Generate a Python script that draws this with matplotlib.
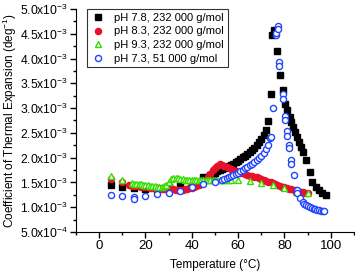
import numpy as np
import matplotlib
matplotlib.use("Agg")
from matplotlib import pyplot as plt
from matplotlib.ticker import MultipleLocator, FuncFormatter

plt.rcParams['font.family'] = ['Liberation Sans', 'DejaVu Sans']
plt.rcParams['mathtext.fontset'] = 'custom'
plt.rcParams['mathtext.rm'] = 'Liberation Sans'

# pH 7.8, 232 000 g/mol  (values in units of 1e-3)
t_78 = [5, 10, 15, 20, 25, 30, 35, 40, 45,
        47, 48, 49, 50, 51, 52, 53, 54, 55, 56, 57, 58, 59, 60, 61, 62, 63, 64,
        65, 66, 67, 68, 69, 70, 71, 72, 73, 74.1, 74.8, 75.6, 77.0, 78.1, 79.2,
        80.3, 81.3, 82.3, 82.8, 83.9, 84.6, 85.6, 86.3, 87.1, 88.2, 89.2, 91.1,
        92.1, 93.5, 95.0, 96.4, 97.8]
a_78 = [1.45, 1.41, 1.38, 1.37, 1.37, 1.40, 1.45, 1.50, 1.60,
        1.62, 1.65, 1.68, 1.70, 1.73, 1.75, 1.77, 1.79, 1.81, 1.83, 1.86, 1.88,
        1.91, 1.94, 1.97, 2.01, 2.04, 2.08, 2.11, 2.15, 2.20, 2.26, 2.31, 2.37,
        2.45, 2.56, 2.74, 3.28, 4.47, 4.57, 4.15, 3.66, 3.36,
        3.09, 2.96, 2.82, 2.72, 2.62, 2.52, 2.42, 2.32, 2.22, 2.12, 1.95, 1.72,
        1.51, 1.41, 1.35, 1.28, 1.25]

# pH 8.3, 232 000 g/mol
t_83 = [5, 10] + list(range(13, 91))
a_83 = [1.56, 1.51,
        1.44, 1.43, 1.43, 1.42, 1.42, 1.41, 1.41, 1.40, 1.40, 1.39, 1.39, 1.38,
        1.38, 1.38, 1.37, 1.37, 1.37, 1.37,
        1.36, 1.36, 1.35, 1.35, 1.35, 1.35, 1.36, 1.37, 1.38, 1.39, 1.40, 1.42,
        1.44, 1.47, 1.50, 1.55, 1.61,
        1.68, 1.75, 1.80, 1.84, 1.87, 1.86, 1.84, 1.82, 1.80, 1.78, 1.76, 1.74,
        1.72, 1.70, 1.69, 1.67, 1.66, 1.64, 1.63, 1.62, 1.60, 1.59, 1.57, 1.55,
        1.53, 1.51, 1.50, 1.48, 1.46, 1.44, 1.42, 1.41, 1.40, 1.38, 1.37, 1.36,
        1.35, 1.34, 1.33, 1.31, 1.30, 1.29, 1.28]

# pH 9.3, 232 000 g/mol
t_93 = [5, 10] + list(range(14, 58)) + [60, 65, 70, 75, 80, 85, 90]
a_93 = [1.63, 1.55,
        1.48, 1.47, 1.47, 1.46, 1.46, 1.45, 1.44, 1.44, 1.43, 1.42, 1.42, 1.41,
        1.41, 1.41, 1.42, 1.45, 1.50, 1.56, 1.58, 1.58, 1.58, 1.57, 1.56, 1.55,
        1.55, 1.54, 1.54, 1.54, 1.54, 1.54, 1.54, 1.54, 1.54, 1.54, 1.54, 1.55,
        1.55, 1.55, 1.55, 1.55, 1.55, 1.55, 1.55, 1.55,
        1.55, 1.53, 1.48, 1.45, 1.38, 1.31, 1.28]

# pH 7.3, 51 000 g/mol
t_73 = [5, 10, 15, 15, 20, 25, 30, 35, 40, 45, 50,
        53, 54, 55, 56, 57, 58, 59, 60, 61, 62, 63, 64, 65, 66, 67, 68, 69, 70,
        71, 72, 72.8, 73.6, 74.1, 75.2, 76.3, 76.5, 77.2, 77.4, 77.8, 77.8,
        79.2, 79.2, 80.2, 80.2, 81.3, 81.3, 82.0, 82.0, 82.8, 82.8, 84.2, 85.3,
        85.6, 86.8, 87.8, 88.6, 89.4, 90.2, 91.0, 91.8, 92.6, 93.4, 94.2, 95.0,
        95.8, 96.6, 97.2]
a_73 = [1.25, 1.23, 1.21, 1.17, 1.23, 1.26, 1.29, 1.33, 1.40, 1.46, 1.51,
        1.55, 1.57, 1.59, 1.61, 1.63, 1.65, 1.68, 1.70, 1.73, 1.76, 1.79, 1.82,
        1.85, 1.88, 1.91, 1.95, 1.99, 2.04, 2.10, 2.18, 2.26, 2.39, 2.42, 3.01,
        4.47, 4.52, 4.65, 4.60, 3.93, 3.85, 3.28, 3.18, 2.85, 2.76, 2.54, 2.44,
        2.25, 2.19, 1.95, 1.88, 1.65, 1.35, 1.28, 1.18, 1.11, 1.07, 1.04, 1.02,
        1.00, 0.98, 0.97, 0.96, 0.95, 0.94, 0.93, 0.93, 0.92]

series = [
    (t_78, a_78, 'pH 7.8, 232 000 g/mol', 's', 'black', 'black'),
    (t_83, a_83, 'pH 8.3, 232 000 g/mol', 'o', '#e8102a', '#e8102a'),
    (t_93, a_93, 'pH 9.3, 232 000 g/mol', '^', 'white', '#33dd00'),
    (t_73, a_73, 'pH 7.3, 51 000 g/mol', 'o', 'white', '#2244ff'),
]


def sci_fmt(v, pos):
    if v <= 0:
        return ''
    exp = int(np.floor(np.log10(v) + 1e-9))
    man = v / 10 ** exp
    return r'$\mathregular{%.1fx10^{%d}}$' % (man, exp)


fig = plt.figure(figsize=(3.55, 2.72), dpi=100)
ax = fig.add_axes([0.214, 0.147, 0.783, 0.82])

for t, a, lab, mk, fc, ec in series:
    y = np.array(a) * 1e-3
    ax.plot(t, y, linestyle='none', marker=mk, markersize=4.4 if mk != 's' else 4.0,
            markerfacecolor=fc, markeredgecolor=ec, markeredgewidth=1.0, label=lab)

ax.set_xlim(-10, 110)
ax.set_ylim(0.5e-3, 5.0e-3)
ax.xaxis.set_major_locator(MultipleLocator(20))
ax.xaxis.set_minor_locator(MultipleLocator(10))
ax.yaxis.set_major_locator(MultipleLocator(0.5e-3))
ax.yaxis.set_minor_locator(MultipleLocator(0.25e-3))
ax.yaxis.set_major_formatter(FuncFormatter(sci_fmt))
ax.xaxis.set_major_formatter(FuncFormatter(lambda v, p: '%d' % v if v >= 0 else ''))

ax.spines['top'].set_visible(False)
ax.spines['right'].set_visible(False)
ax.tick_params(which='major', direction='out', length=4, width=1, pad=2)
ax.tick_params(which='minor', direction='out', length=2.5, width=1)
ax.tick_params(axis='y', labelsize=8.7)
ax.tick_params(axis='x', labelsize=9.5)

ax.set_xlabel('Temperature (\u00b0C)', fontsize=8.5)
ax.xaxis.set_label_coords(0.5, -0.15)
ax.xaxis.label.set_va('center')
ax.set_ylabel(r'Coefficient of Thermal Expansion (deg$^{\mathregular{-1}}$)', fontsize=8.5)
ax.yaxis.set_label_coords(-0.237, 0.5)
ax.yaxis.label.set_va('center')

leg = ax.legend(loc='upper left', bbox_to_anchor=(0.04, 1.0), borderaxespad=0,
                fontsize=8, frameon=True, fancybox=False, handlelength=1.2,
                handletextpad=0.9, borderpad=0.35, labelspacing=0.32)
leg.get_frame().set_edgecolor('black')
leg.get_frame().set_linewidth(0.8)

fig.savefig('out.png', dpi=100)
